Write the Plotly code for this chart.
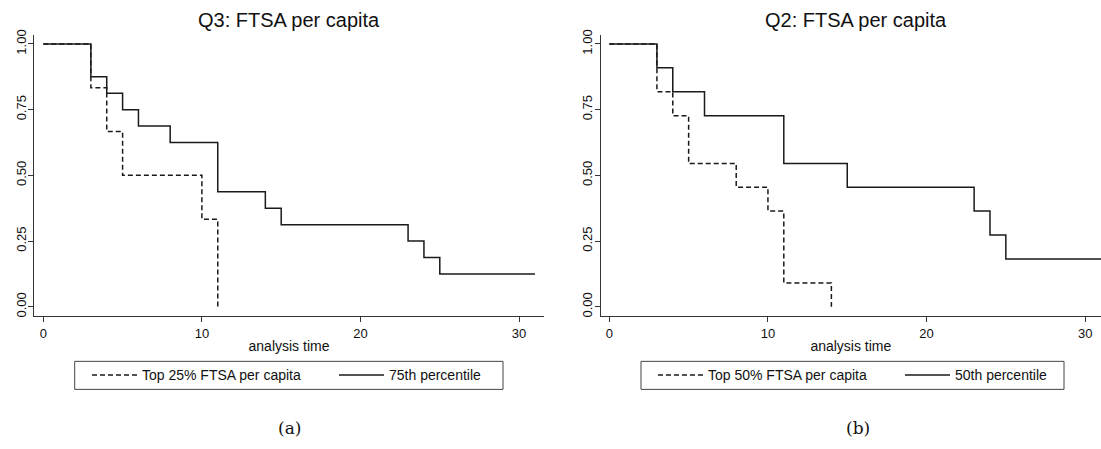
import plotly.graph_objects as go

# ---- data ----
q3_top_time = [0, 3, 4, 5, 10, 11]
q3_top_surv = [1.0, 0.833, 0.667, 0.5, 0.333, 0.0]
q3_pct_time = [0, 3, 4, 5, 6, 8, 11, 14, 15, 23, 24, 25, 31]
q3_pct_surv = [1.0, 0.875, 0.8125, 0.75, 0.6875, 0.625, 0.4375, 0.375, 0.3125, 0.25, 0.1875, 0.125, 0.125]

q2_top_time = [0, 3, 4, 5, 8, 10, 11, 14]
q2_top_surv = [1.0, 0.818, 0.727, 0.545, 0.455, 0.364, 0.091, 0.0]
q2_pct_time = [0, 3, 4, 6, 11, 15, 23, 24, 25, 31]
q2_pct_surv = [1.0, 0.909, 0.818, 0.727, 0.545, 0.455, 0.364, 0.273, 0.182, 0.182]

titles = ["Q3: FTSA per capita", "Q2: FTSA per capita"]
names_a = ["Top 25% FTSA per capita", "75th percentile"]
names_b = ["Top 50% FTSA per capita", "50th percentile"]
captions = ["(a)", "(b)"]
x_ticks = [0, 10, 20, 30]
y_ticks = [0.0, 0.25, 0.5, 0.75, 1.0]
y_ticklabels = ["0.00", "0.25", "0.50", "0.75", "1.00"]

W, H = 1101, 449
L, R, T, B = 34, 0, 35, 133.3
PW, PH = W - L - R, H - T - B


def px_x(p):
    return (p - L) / PW


def px_y(p):
    return (H - B - p) / PH


FONT = "Liberation Sans, Arial, sans-serif"
LINE = "#1a1a1a"
AX = "#333333"
DASH = "5px,3px"

fig = go.Figure()


def add(x, y, name, dash, xa, ya, legend):
    fig.add_trace(go.Scatter(
        x=x, y=y, mode="lines", name=name, line_shape="hv",
        line=dict(color=LINE, width=1.5, dash=dash),
        xaxis=xa, yaxis=ya, legend=legend, hoverinfo="skip"))


add(q3_top_time, q3_top_surv, names_a[0], DASH, "x", "y", "legend")
add(q3_pct_time, q3_pct_surv, names_a[1], "solid", "x", "y", "legend")
add(q2_top_time, q2_top_surv, names_b[0], DASH, "x2", "y2", "legend2")
add(q2_pct_time, q2_pct_surv, names_b[1], "solid", "x2", "y2", "legend2")

common_x = dict(showline=True, linecolor=AX, linewidth=1.2, ticks="outside", ticklen=5,
                tickcolor=AX, tickvals=x_ticks, showgrid=False, zeroline=False,
                tickfont=dict(family=FONT, size=13, color="#111"),
                title=dict(text="analysis time", font=dict(family=FONT, size=14, color="#111"), standoff=1))
common_y = dict(showline=True, linecolor=AX, linewidth=1.2, ticks="outside", ticklen=5,
                tickcolor=AX, tickvals=y_ticks, ticktext=y_ticklabels, tickangle=-90,
                ticklabelstandoff=-3,
                showgrid=False, zeroline=False, range=[-0.035, 1.034], domain=[0, 1],
                tickfont=dict(family=FONT, size=13, color="#111"))

leg_common = dict(orientation="h", xanchor="left", yanchor="middle", borderwidth=0,
                  entrywidth=187, itemwidth=45, traceorder="normal",
                  font=dict(family=FONT, size=14, color="#111"), bgcolor="rgba(0,0,0,0)")

fig.update_layout(
    width=W, height=H, margin=dict(l=L, r=R, t=T, b=B, autoexpand=False),
    paper_bgcolor="white", plot_bgcolor="white",
    xaxis=dict(domain=[px_x(34), px_x(544)], range=[-0.586, 31.57], anchor="y", **common_x),
    yaxis=dict(anchor="x", **common_y),
    xaxis2=dict(domain=[px_x(600.7), 1.0], range=[-0.545, 31.0], anchor="y2", **common_x),
    yaxis2=dict(anchor="x2", **common_y),
    legend=dict(x=px_x(87), y=px_y(375), **leg_common),
    legend2=dict(x=px_x(653), y=px_y(375), **leg_common),
    showlegend=True,
)

# legend frames
for x0, x1 in [(74.7, 503), (641, 1064)]:
    fig.add_shape(type="rect", xref="paper", yref="paper",
                  x0=px_x(x0), x1=px_x(x1), y0=px_y(389), y1=px_y(361),
                  line=dict(color="#444", width=1))

for cx, t in zip([289, 856], titles):
    fig.add_annotation(text=t, x=px_x(cx), y=px_y(20), xref="paper", yref="paper",
                       showarrow=False, xanchor="center", yanchor="middle",
                       font=dict(family=FONT, size=20, color="#111"))
for cx, t in zip([289, 858], captions):
    fig.add_annotation(text=t, x=px_x(cx), y=px_y(428), xref="paper", yref="paper",
                       showarrow=False, xanchor="center", yanchor="middle",
                       font=dict(family="DejaVu Serif, Liberation Serif, serif", size=17, color="#111"))

fig.write_html("out.html", config={"displayModeBar": False},
               post_script="document.body.style.margin='0';document.body.style.overflow='hidden';")
